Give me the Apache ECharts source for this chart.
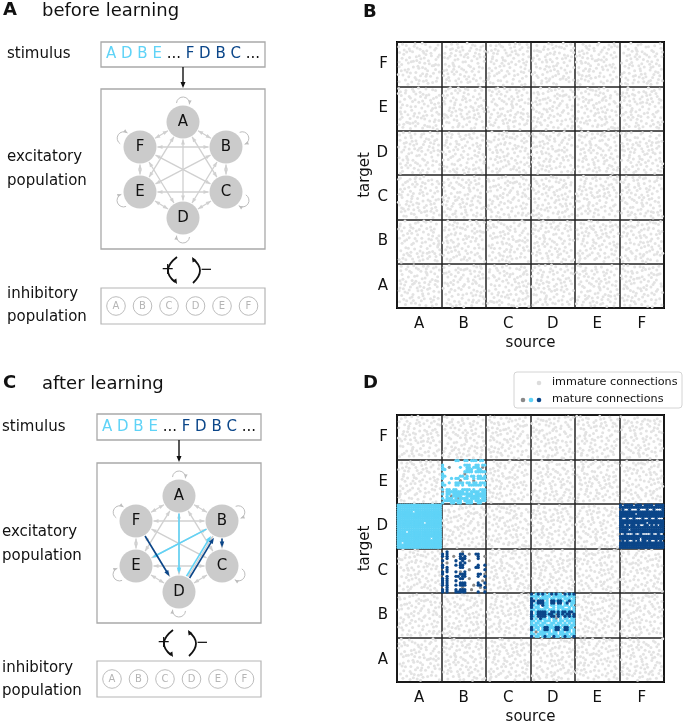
<!DOCTYPE html>
<html><head><meta charset="utf-8">
<script src="https://cdn.jsdelivr.net/npm/echarts@6/dist/echarts.min.js"></script>
<style>html,body{margin:0;padding:0;background:#fff}#c{width:685px;height:724px}</style>
</head><body><div id="c"></div><script>
// ---------------- data ----------------
const groups = ['A','B','C','D','E','F'];
const sequence1 = ['A','D','B','E'];
const sequence2 = ['F','D','B','C'];
// immature connection texture inside one block (xx yy in hundredths of a block)
const immatureTemplate = "0312 1705 2821 4108 5514 6603 7911 9106 0827 2233 3529 4738 5926 7231 8624 9735 0445 1552 2947 3856 5249 6358 7544 8853 1166 2471 3363 4574 5767 6976 8165 9472 0686 1990 3182 4393 5485 6791 7884 9095 1318 3615 6219 8416 0238 2640 4922 7042 9348 1860 4261 6469 8779 0977 3798 6097 7660 5057 2396 9888 3109 7353 1243 5639 8537 4545 2785 8102 6684 0462 5104 9520 3973 6146 1635 3323 8963 7197 4890 0797 2014 5831 7719 9461 3454 0655 6880 8493";
// mature blocks [source, target]; masks: 20 target neurons (top->bottom) x 20 source neurons
// c = cyan (sequence 1), b = dark blue (sequence 2), m = gray, . = none
const matureCells = [['A','D'],['B','E'],['F','D'],['B','C'],['D','B']];
const maskAD = [
"cccccccccccccccccccc","cccccccccccccccccccc","cccccccccccccccccccc","ccccccc.cccccccccccc",
"cccccccccccccccccccc","cccccccccccccccccccc","cccccccccccccccccccc","cccccccccccccccccccc",
"cccccccccccc.ccccccc","cccccccccccccccccccc","cccccccccccccccccccc","cccccccccccccccccccc",
"cccc.ccccccccccccccc","cccccccccccccccccccc","cccccccccccccccccccc","ccccccccccccccc.cccc",
"cccccccccccccccccccc","cc.ccccccccccccccccc","cccccccccccccccccccc","cccccccccccccccccccc"];
const maskBE = [
"......cc..cc.ccc.cc.","....................","c.........ccc..cc.cc","c..m....c..cc.ccc.m.",
"cc.........ccc..cc..","..........cccc.ccccc","c.........m.........","cc......cc.c.cc.cc.c",
"c...c.cc..cc..c.cccc","........m.....m.....","c..c..cccc.cc.cc.ccc","cc....cc.c..cccccc.c",
"....................","c.cc.cc..cccc.c..ccc","m.cccccccc.c.cccc.cc","c.cc.ccccccccc.ccccc",
"..c.mcccc..ccccccccc","c.ccc.cmcccc.cccc.cc",".cccccccc.cccc.ccccc","c...cc.cc..ccc..cc.."];
const maskFD = [
"b.bbbb.bbb.bbbb.bbbb","bbbbbbbbbbbbbbbbbbbb",".b..b...b...b..b...b","bbbbbbbbbbbbbbbbbbbb",
"bbbbbbb.bbbbbbbbbbbb","bbbbbbbbbbbbbbbbbbbb","b..b..b...b..b..b...","bbbbbbbbbbbbbbbbbbbb",
"bbbbbbbbbbbb.bbbbbbb","bb.b.bb.b..bb.b.b.bb","bbbbbbbbbbbbbbbbbbbb","bbbb.bbbbbbbbbbbbbbb",
"bbbbbbbbbbbbbbbbbbbb","..b...b..b....b..b..","bbbbbbbbbbbbbbbbbbbb","bbbbbbbbb.bbbbbbbbbb",
".b.b..b.b.bb.b..b.b.","bbbbbbbbbbbbbbbbbbbb","bbbbbbbbbbbbbbbbbbbb","bbbbbbbbbbbbbbbbbbbb"];
const maskBC = [
"....................","..b......m..........","b.b.....bb..m..bb...","b.b..m..b.b.....b..m",
"..b.....bbb.....b...","b.....b..b..m.......","..m.....b.b.........","b.....b.bb......b..b",
"b.b.....bb.....bb...","..b.........m......b","b.b...b.m.b.........","b.......bbb.....bb.m",
"..b...bb.bb.....b..b","b.b.....bb..m.......","b.b...b...........m.","b.b.....bbb.....b..b",
"b.b...b.bbb...m.bb..","..b......m.......m.b","b.b...b.bbb..m.....m","b.b...bbbbb.....b..b"];
const maskDB = [
"b.cbcbc.cbcbcc.bcbcb","cccc.cccc.cccccc.ccc","b.c.cccc.cc.cc.ccc.c","bb.bbb.c.bbcbbc.cbcc",
"b.cbbbcc.bb.bb.cb.cc","bc.c.bcc.cc.cc.cc.c.","b.cc..cc..c.ccc..c.c","cc.cccc.ccc.c.cccc.c",
"b.cbbbbc.bbcbcbbcbbc","b.cbbbbcbbcmbcbcbb.b","bc.bbbb.cbb.bc.bcbcb","b.c.bcc.c.cm.c.cc.cc",
"cc.cc.ccc.cc.cc.cccc","c.cc.cc..cc.cc.c.c.c","ccc.cc.ccc.cc.ccc.cc","b.cc.cbbcccbbc.bbcc.",
"bc.c.cbbc.cbb.cbbc.c","c.m.ccccc.cc.cc.cc.c","cc.cccc.cccc.cccc.cc","b.cc.cbcc.bcc.cbcc.b"];
const masks = [maskAD, maskBE, maskFD, maskBC, maskDB];

// ---------------- styles ----------------
const CYAN = '#5fd3f7', BLUE = '#0b4689', MGRAY = '#8a8a8a', LGRAY = '#e3e3e3';
const FONT = '"DejaVu Sans", Verdana, sans-serif';

// ---------------- build scatter data ----------------
const tpl = immatureTemplate.trim().split(/\s+/).map(s => [ +s.slice(0,2)/100, +s.slice(2,4)/100 ]);
function blockPoints(si, ti, k) {
  const t = k % 8, sx = ((k * 37) % 100) / 100, sy = ((k * 61) % 100) / 100;
  return tpl.map(([x, y]) => {
    let u = (x + sx) % 1, v = (y + sy) % 1;
    if (t & 1) u = 1 - u;
    if (t & 2) v = 1 - v;
    if (t & 4) { const w = u; u = v; v = w; }
    return [si + 0.03 + 0.94 * u, ti + 0.03 + 0.94 * v];
  });
}
const grayB = [], grayD = [];
groups.forEach((s, si) => groups.forEach((t, ti) => {
  grayB.push(...blockPoints(si, ti, si * 6 + ti));
  const mature = matureCells.some(([ms, mt]) => ms === s && mt === t);
  if (!mature) grayD.push(...blockPoints(si, ti, si * 6 + ti + 13));
}));
const matC = [], matB = [], matM = [];
matureCells.forEach(([s, t], n) => {
  const si = groups.indexOf(s), ti = groups.indexOf(t);
  masks[n].forEach((row, r) => row.split('').forEach((ch, c) => {
    const p = [si + (c + 0.5) / 20, ti + 1 - (r + 0.5) / 20];
    if (ch === 'c') matC.push(p); else if (ch === 'b') matB.push(p); else if (ch === 'm') matM.push(p);
  }));
});

// ---------------- graphic helpers ----------------
const G = [];
function txt(x, y, text, size, opt) {
  opt = opt || {};
  G.push({ type: 'text', x, y, silent: true, z: 10,
    style: Object.assign({ text, font: (opt.bold ? 'bold ' : '') + size + 'px ' + FONT, fill: opt.fill || '#111',
      textAlign: opt.align || 'left', textVerticalAlign: 'middle' }, opt.style || {}) });
}
function rect(x, y, w, h, stroke, lw, r) {
  G.push({ type: 'rect', silent: true, z: 1, shape: { x, y, width: w, height: h, r: r || 0 }, style: { stroke, fill: '#fff', lineWidth: lw } });
}
function lineEl(x1, y1, x2, y2, color, w) {
  G.push({ type: 'line', silent: true, z: 2, shape: { x1, y1, x2, y2 }, style: { stroke: color, lineWidth: w } });
}
function head(x, y, dx, dy, len, wid, color, z) {
  const L = Math.hypot(dx, dy), ux = dx / L, uy = dy / L, bx = x - ux * len, by = y - uy * len;
  G.push({ type: 'polygon', silent: true, z: z || 3, shape: { points: [[x, y], [bx - uy * wid / 2, by + ux * wid / 2], [bx + uy * wid / 2, by - ux * wid / 2]] }, style: { fill: color } });
}
function circ(cx, cy, r, fill, stroke, lw, z) {
  G.push({ type: 'circle', silent: true, z: z || 4, shape: { cx, cy, r }, style: { fill, stroke: stroke || null, lineWidth: lw || 0 } });
}

const nodeOffsets = { A: [0, -48], B: [43, -23], C: [43, 22], D: [0, 48], E: [-43, 22], F: [-43, -23] };
const R = 16.5;
function panelDiagram(P) {
  txt(P.tx, P.ty, P.letter, 18, { bold: true });
  txt(42, P.ty + 1, P.title, 18);
  txt(P.lx, P.stimY, 'stimulus', 15);
  txt(P.lx, P.excY, 'excitatory', 15);
  txt(P.lx, P.excY + 24, 'population', 15);
  txt(P.lx, P.inhY, 'inhibitory', 15);
  txt(P.lx, P.inhY + 23, 'population', 15);
  rect(P.bx, P.sy, P.bw, P.sh, '#a9a9a9', 1.3);
  G.push({ type: 'text', x: P.cx, y: P.sy + P.sh / 2, silent: true, z: 10,
    style: { text: '{c|' + sequence1.join(' ') + '} ... {b|' + sequence2.join(' ') + '} ...', font: '15px ' + FONT,
      fill: '#111', textAlign: 'center', textVerticalAlign: 'middle',
      rich: { c: { fill: CYAN, color: CYAN, font: '15px ' + FONT }, b: { fill: BLUE, color: BLUE, font: '15px ' + FONT } } } });
  lineEl(P.cx, P.sy + P.sh, P.cx, P.ey - 3, '#111', 1.4);
  head(P.cx, P.ey - 1, 0, 1, 6, 5, '#111');
  rect(P.bx, P.ey, P.bw, P.eh, '#a9a9a9', 1.3);
  const pos = {};
  groups.forEach(g => pos[g] = [P.cx + nodeOffsets[g][0], P.ncy + nodeOffsets[g][1]]);
  const EG = '#d0d0d0';
  for (let i = 0; i < 6; i++) for (let j = i + 1; j < 6; j++) {
    const p = pos[groups[i]], q = pos[groups[j]];
    const dx = q[0] - p[0], dy = q[1] - p[1], L = Math.hypot(dx, dy), ux = dx / L, uy = dy / L;
    const sx = p[0] + ux * (R + 1), sy = p[1] + uy * (R + 1), ex = q[0] - ux * (R + 1), ey = q[1] - uy * (R + 1);
    lineEl(sx, sy, ex, ey, EG, 1.3);
    head(ex, ey, ux, uy, 5, 4, EG); head(sx, sy, -ux, -uy, 5, 4, EG);
  }
  groups.forEach(g => {
    const o = nodeOffsets[g], L = Math.hypot(o[0], o[1]), ux = o[0] / L, uy = o[1] / L;
    const phi = Math.atan2(uy, ux);
    const lx = pos[g][0] + ux * (R + 2), ly = pos[g][1] + uy * (R + 2), lr = 6.5;
    const a0 = phi - 1.5, a1 = phi + 1.7;
    G.push({ type: 'arc', silent: true, z: 2, shape: { cx: lx, cy: ly, r: lr, startAngle: a0, endAngle: a1, clockwise: true }, style: { stroke: '#bdbdbd', lineWidth: 1, fill: 'none' } });
    head(lx + lr * Math.cos(a1), ly + lr * Math.sin(a1), -Math.sin(a1), Math.cos(a1), 4, 3.5, '#bdbdbd');
  });
  if (P.learned) {
    const edges = [];
    [[sequence1, CYAN], [sequence2, BLUE]].forEach(([seq, col]) => {
      for (let k = 0; k + 1 < seq.length; k++) edges.push([seq[k], seq[k + 1], col]);
    });
    edges.forEach(([a, b, col]) => {
      const dup = edges.filter(e => e[0] === a && e[1] === b);
      const off = dup.length > 1 ? (col === CYAN ? -1.8 : 1.8) : 0;
      const p = pos[a], q = pos[b];
      const dx = q[0] - p[0], dy = q[1] - p[1], L = Math.hypot(dx, dy), ux = dx / L, uy = dy / L;
      const nx = -uy * off, ny = ux * off;
      const sx = p[0] + ux * (R + 1) + nx, sy = p[1] + uy * (R + 1) + ny;
      const ex = q[0] - ux * (R + 2) + nx, ey = q[1] - uy * (R + 2) + ny;
      G.push({ type: 'line', silent: true, z: 3, shape: { x1: sx, y1: sy, x2: ex - ux * 4, y2: ey - uy * 4 }, style: { stroke: col, lineWidth: 1.6 } });
      head(ex, ey, ux, uy, 6, 4.5, col, 3);
    });
  }
  groups.forEach(g => {
    circ(pos[g][0], pos[g][1], R, '#cbcbcb', null, 0, 4);
    G.push({ type: 'text', x: pos[g][0], y: pos[g][1], silent: true, z: 5, style: { text: g, font: '15px ' + FONT, fill: '#111', textAlign: 'center', textVerticalAlign: 'middle' } });
  });
  const fy = P.fy;
  txt(P.cx - 22, fy, '+', 16);
  G.push({ type: 'bezierCurve', silent: true, z: 3, shape: { x1: P.cx - 6, y1: fy - 13, cpx1: P.cx - 23, cpy1: fy, x2: P.cx - 8, y2: fy + 12 }, style: { stroke: '#111', lineWidth: 1.8, fill: 'none' } });
  head(P.cx - 6, fy + 14, 0.6, 1, 5, 4.5, '#111');
  G.push({ type: 'bezierCurve', silent: true, z: 3, shape: { x1: P.cx + 10, y1: fy - 11, cpx1: P.cx + 24, cpy1: fy, x2: P.cx + 10, y2: fy + 13 }, style: { stroke: '#111', lineWidth: 1.8, fill: 'none' } });
  head(P.cx + 9, fy - 13, -0.6, -1, 5, 4.5, '#111');
  txt(P.cx + 17, fy, '\u2212', 15);
  rect(P.bx, P.iy, P.bw, P.ih, '#b5b5b5', 1.2);
  groups.forEach((g, i) => {
    const x = P.bx + 15 + i * 26.5, y = P.iy + P.ih / 2;
    circ(x, y, 9.3, '#fff', '#bdbdbd', 1, 4);
    G.push({ type: 'text', x, y, silent: true, z: 5, style: { text: g, font: '10px ' + FONT, fill: '#b5b5b5', textAlign: 'center', textVerticalAlign: 'middle' } });
  });
}
panelDiagram({ letter: 'A', title: 'before learning', tx: 3, ty: 10, lx: 7, stimY: 54, excY: 157, inhY: 294,
  bx: 101, bw: 164, sy: 42, sh: 25, cx: 183, ey: 89, eh: 160, ncy: 170, fy: 270, iy: 288, ih: 36, learned: false });
panelDiagram({ letter: 'C', title: 'after learning', tx: 3, ty: 383, lx: 2, stimY: 427, excY: 532, inhY: 668,
  bx: 97, bw: 164, sy: 414, sh: 26, cx: 179, ey: 463, eh: 160, ncy: 544, fy: 643, iy: 661, ih: 36, learned: true });
txt(363, 12, 'B', 18, { bold: true });
txt(363, 383, 'D', 18, { bold: true });
G.push({ type: 'rect', silent: true, z: 20, shape: { x: 514, y: 372, width: 168, height: 36, r: 3 }, style: { stroke: '#d4d4d4', fill: '#fff', lineWidth: 1 } });
circ(539, 383, 2.3, '#dcdcdc', null, 0, 21);
circ(523, 400, 2.3, MGRAY, null, 0, 21);
circ(531, 400, 2.3, CYAN, null, 0, 21);
circ(539, 400, 2.3, BLUE, null, 0, 21);
G.push({ type: 'text', x: 552, y: 382, silent: true, z: 21, style: { text: 'immature connections', font: '11.2px ' + FONT, fill: '#111', textVerticalAlign: 'middle' } });
G.push({ type: 'text', x: 552, y: 399, silent: true, z: 21, style: { text: 'mature connections', font: '11.2px ' + FONT, fill: '#111', textVerticalAlign: 'middle' } });

// ---------------- axes ----------------
function valueAxis(gi) {
  return { gridIndex: gi, type: 'value', min: 0, max: 6, interval: 1, axisLine: { show: false }, axisTick: { show: false },
    axisLabel: { show: false }, splitLine: { show: true, lineStyle: { color: '#222', width: 1.5 } } };
}
function catAxis(gi, pos, name, gap) {
  return { gridIndex: gi, type: 'category', data: groups, position: pos, axisLine: { show: false }, axisTick: { show: false },
    splitLine: { show: false }, axisLabel: { color: '#111', fontSize: 15, fontFamily: FONT, margin: 9 },
    name, nameLocation: 'middle', nameGap: gap, nameTextStyle: { color: '#111', fontSize: 15, fontFamily: FONT } };
}
const chart = echarts.init(document.getElementById('c'), null, { renderer: 'canvas' });
const scat = (name, data, xi, color, size, z) => ({ name, type: 'scatter', xAxisIndex: xi, yAxisIndex: xi, data, symbol: 'circle',
  symbolSize: size, itemStyle: { color, opacity: 1 }, silent: true, z, animation: false });
chart.setOption({
  animation: false,
  backgroundColor: '#fff',
  grid: [
    { left: 397, top: 42, width: 267, height: 266, show: true, borderColor: '#000', borderWidth: 2, backgroundColor: 'rgba(0,0,0,0)', containLabel: false, outerBoundsMode: 'none' },
    { left: 397, top: 415, width: 267, height: 267, show: true, borderColor: '#000', borderWidth: 2, backgroundColor: 'rgba(0,0,0,0)', containLabel: false, outerBoundsMode: 'none' }
  ],
  xAxis: [valueAxis(0), catAxis(0, 'bottom', 'source', 28), valueAxis(1), catAxis(1, 'bottom', 'source', 28)],
  yAxis: [valueAxis(0), catAxis(0, 'left', 'target', 22), valueAxis(1), catAxis(1, 'left', 'target', 22)],
  series: [
    scat('immature B', grayB, 0, LGRAY, 3, 2),
    scat('immature D', grayD, 2, LGRAY, 3, 2),
    scat('mature gray', matM, 2, MGRAY, 3.2, 3),
    scat('mature cyan', matC, 2, CYAN, 3.3, 4),
    scat('mature blue', matB, 2, BLUE, 3.3, 5)
  ],
  graphic: { elements: G }
});
</script></body></html>
